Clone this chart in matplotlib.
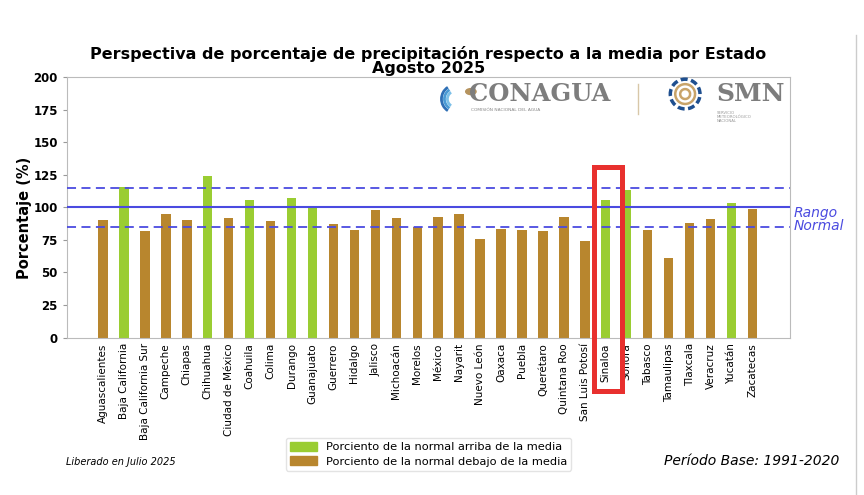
import numpy as np
import matplotlib
matplotlib.use("Agg")
import matplotlib.pyplot as plt
from matplotlib.patches import Rectangle, Patch, Arc, Circle

estados = ["Aguascalientes", "Baja California", "Baja California Sur", "Campeche",
           "Chiapas", "Chihuahua", "Ciudad de México", "Coahuila", "Colima",
           "Durango", "Guanajuato", "Guerrero", "Hidalgo", "Jalisco", "Michoacán",
           "Morelos", "México", "Nayarit", "Nuevo León", "Oaxaca", "Puebla",
           "Querétaro", "Quintana Roo", "San Luis Potosí", "Sinaloa", "Sonora",
           "Tabasco", "Tamaulipas", "Tlaxcala", "Veracruz", "Yucatán", "Zacatecas"]
porcentaje = [90, 116, 82, 95, 90, 124.5, 92, 106, 89.5, 107, 100.5, 87, 82.5, 98,
              92, 85, 92.5, 95, 75.5, 83.5, 82.5, 81.5, 93, 74.5, 105.5, 113.5,
              83, 61, 88, 91, 103, 99]
arriba = [False, True, False, False, False, True, False, True, False, True, True,
          False, False, False, False, False, False, False, False, False, False,
          False, False, False, True, True, False, False, False, False, True, False]

VERDE, CAFE, AZUL = "#9ACD32", "#B8862E", "#4B4BE0"

fig = plt.figure(figsize=(8.64, 4.95), dpi=100)
ax = fig.add_axes([0.0775, 0.318, 0.837, 0.526])

x = np.arange(len(estados))
colores = [VERDE if a else CAFE for a in arriba]
ax.bar(x, porcentaje, width=0.45, color=colores, zorder=2)

ax.axhline(100, color=AZUL, lw=1.5, zorder=3)
ax.axhline(115, color=AZUL, lw=1.3, ls=(0, (5, 3)), zorder=3)
ax.axhline(85, color=AZUL, lw=1.3, ls=(0, (5, 3)), zorder=3)

ax.set_xlim(-1.72, 32.8)
ax.set_ylim(0, 200)
ax.set_yticks(range(0, 201, 25))
ax.tick_params(axis="y", labelsize=8.5, length=3, color="#999999")
for lab in ax.get_yticklabels():
    lab.set_fontweight("bold")
ax.set_xticks(x)
ax.set_xticklabels(estados, rotation=90, fontsize=7.5)
ax.tick_params(axis="x", length=0, pad=4)
ax.set_ylabel("Porcentaje (%)", fontsize=10.5, fontweight="bold")
ax.yaxis.set_label_coords(-0.048, 0.46)
for s in ax.spines.values():
    s.set_color("#bbbbbb")

ax.set_title("Perspectiva de porcentaje de precipitación respecto a la media por Estado\n"
             "Agosto 2025", fontsize=11.5, fontweight="bold", linespacing=0.9, pad=3)

ax.text(1.005, 0.455, "Rango\nNormal", transform=ax.transAxes, color=AZUL,
        style="italic", fontsize=10, va="center", ha="left", linespacing=0.9)

# logos (aproximados)
fig.text(0.543, 0.811, "CONAGUA", family="DejaVu Serif", fontweight="bold",
         fontsize=17.5, color="#7d7d7d", va="center")
fig.text(0.545, 0.778, "COMISIÓN NACIONAL DEL AGUA", fontsize=3.2, color="#888888",
         va="center")
fig.add_artist(plt.Line2D([0.738, 0.738], [0.77, 0.83], color="#d8c7a8", lw=1,
                          transform=fig.transFigure))
fig.text(0.829, 0.811, "SMN", family="DejaVu Serif", fontweight="bold",
         fontsize=18, color="#7d7d7d", va="center")
fig.text(0.83, 0.764, "SERVICIO\nMETEOROLÓGICO\nNACIONAL", fontsize=2.8,
         color="#999999", va="center", linespacing=1.0)
for r, c in [(0.028, "#2f6fb5"), (0.022, "#4a9ad4"), (0.016, "#7cc0e8")]:
    fig.add_artist(Arc((0.527, 0.80), r * 2 * 495 / 864, r * 2, theta1=110,
                       theta2=250, color=c, lw=2, transform=fig.transFigure))
fig.add_artist(Circle((0.545, 0.815), 0.006, color="#b5935e",
                      transform=fig.transFigure))
for r, c in [(0.03, "#1f4f8f"), (0.02, "#c9a46a"), (0.01, "#c9a46a")]:
    fig.add_artist(Arc((0.793, 0.81), r * 2 * 495 / 864, r * 2, theta1=0,
                       theta2=360, color=c, lw=2.5 if c == "#1f4f8f" else 1.8,
                       ls=(0, (2, 1)) if c == "#1f4f8f" else "-",
                       transform=fig.transFigure))

# recuadro Sinaloa
fig.add_artist(Rectangle((0.6875, 0.21), 0.032, 0.452, fill=False,
                         ec="#e8302e", lw=3.6, transform=fig.transFigure))

handles = [Patch(color=VERDE, label="Porciento de la normal arriba de la media"),
           Patch(color=CAFE, label="Porciento de la normal debajo de la media")]
fig.legend(handles=handles, loc="center", bbox_to_anchor=(0.496, 0.082),
           fontsize=8.2, frameon=True, edgecolor="#dddddd", handlelength=2.4,
           handleheight=0.8, borderpad=0.35, labelspacing=0.35)

fig.text(0.076, 0.06, "Liberado en Julio 2025", style="italic", fontsize=7)
fig.text(0.972, 0.06, "Período Base: 1991-2020", style="italic", fontsize=10,
         ha="right")

fig.add_artist(plt.Line2D([0.991, 0.991], [0.0, 0.93], color="#cccccc", lw=1,
                          transform=fig.transFigure))

fig.savefig("out.png", dpi=100)
